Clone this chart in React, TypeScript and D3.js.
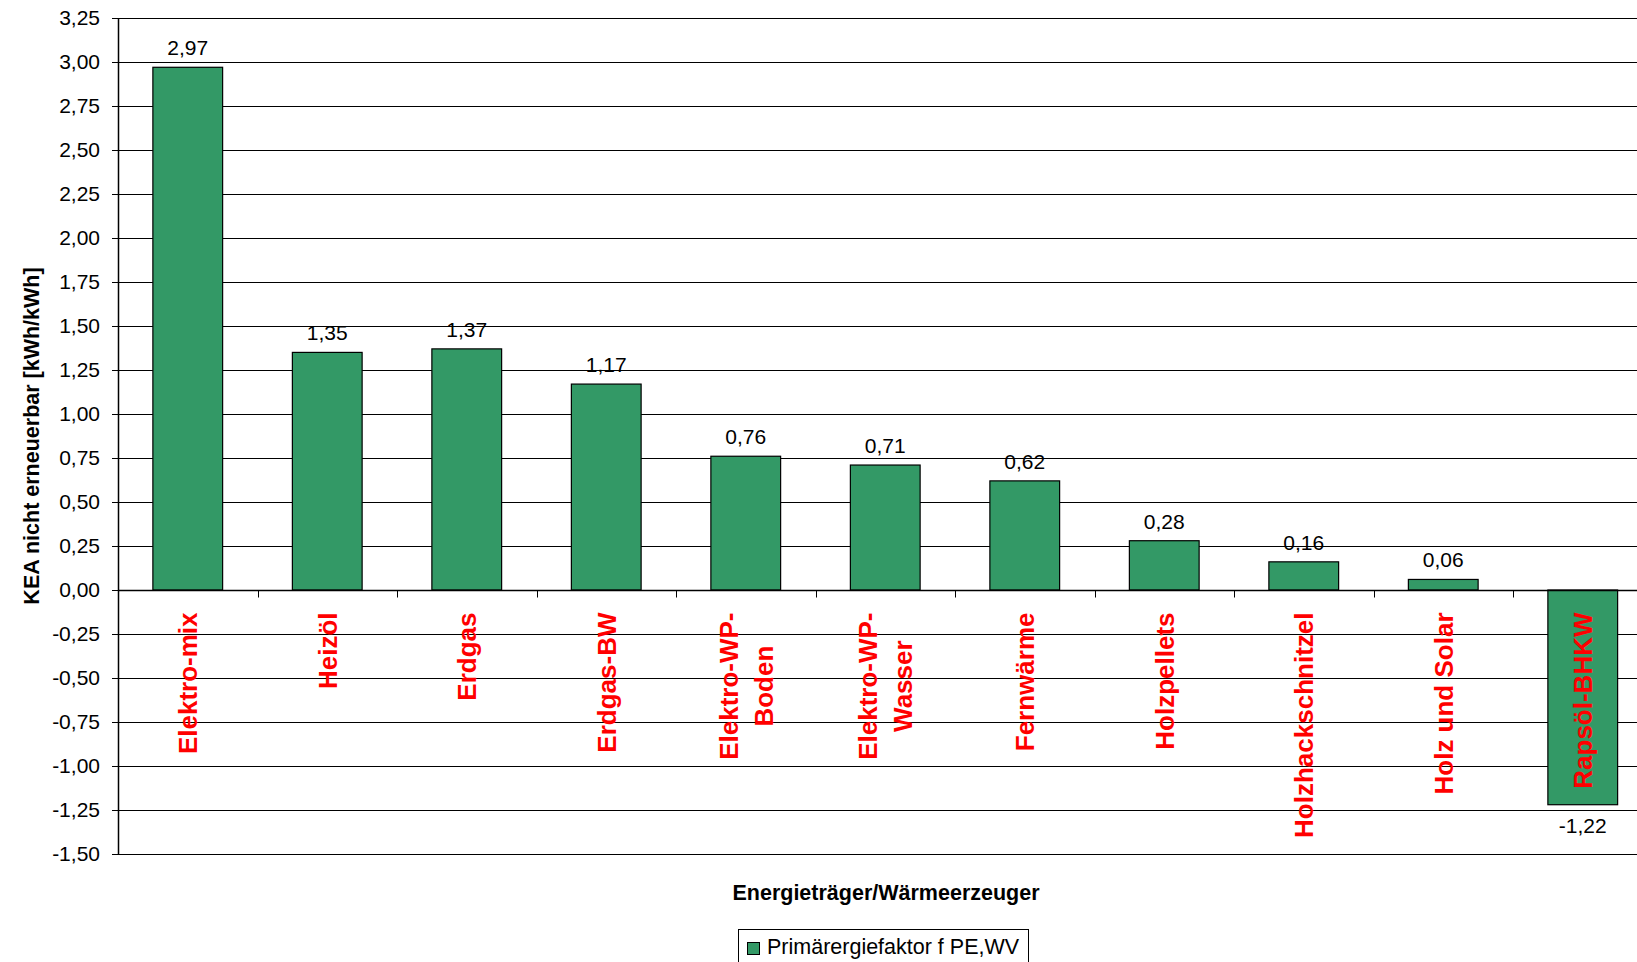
import React, { useEffect, useRef } from "react";
import * as d3 from "d3";

// Energy carriers / heat generators (line breaks mark wrapped labels)
const categories: string[] = [
  "Elektro-mix",
  "Heizöl",
  "Erdgas",
  "Erdgas-BW",
  "Elektro-WP-\nBoden",
  "Elektro-WP-\nWasser",
  "Fernwärme",
  "Holzpellets",
  "Holzhackschnitzel",
  "Holz und Solar",
  "Rapsöl-BHKW",
];

// Primärenergiefaktor per carrier [kWh/kWh]
const values: number[] = [2.97, 1.35, 1.37, 1.17, 0.76, 0.71, 0.62, 0.28, 0.16, 0.06, -1.22];

const yTicks: number[] = [
  -1.5, -1.25, -1.0, -0.75, -0.5, -0.25, 0, 0.25, 0.5, 0.75, 1.0, 1.25, 1.5, 1.75, 2.0, 2.25,
  2.5, 2.75, 3.0, 3.25,
];

const seriesName = "Primärergiefaktor f PE,WV";
const xTitle = "Energieträger/Wärmeerzeuger";
const yTitle = "KEA nicht erneuerbar [kWh/kWh]";

const W = 1637;
const H = 962;
const FONT = "'Liberation Sans', Arial, Helvetica, sans-serif";
const BAR = "#339966";

export default function App() {
  const ref = useRef<SVGSVGElement | null>(null);

  useEffect(() => {
    const svg = d3.select(ref.current);
    svg.selectAll("*").remove();

    const left = 118;
    const right = 1652.5;
    const top = 18;
    const bottom = 854;

    const de = d3.formatLocale({
      decimal: ",",
      thousands: ".",
      grouping: [3],
      currency: ["", " €"],
      minus: "-",
    });
    const fmt = de.format(".2f");

    const x = d3
      .scaleBand<string>()
      .domain(categories)
      .range([left, right])
      .paddingInner(0.5)
      .paddingOuter(0.25);
    const y = d3.scaleLinear().domain([-1.5, 3.25]).range([bottom, top]);
    const step = x.step();

    // horizontal gridlines
    svg
      .append("g")
      .selectAll("line")
      .data(yTicks)
      .join("line")
      .attr("x1", left)
      .attr("x2", right)
      .attr("y1", (d) => Math.round(y(d)) + 0.5)
      .attr("y2", (d) => Math.round(y(d)) + 0.5)
      .attr("stroke", "#000")
      .attr("stroke-width", 1);

    // bars
    svg
      .append("g")
      .selectAll("rect")
      .data(values)
      .join("rect")
      .attr("x", (_, i) => x(categories[i])!)
      .attr("width", x.bandwidth())
      .attr("y", (d) => y(Math.max(0, d)))
      .attr("height", (d) => Math.abs(y(d) - y(0)))
      .attr("fill", BAR)
      .attr("stroke", "#000")
      .attr("stroke-width", 1.2);

    // value labels
    svg
      .append("g")
      .selectAll("text")
      .data(values)
      .join("text")
      .attr("x", (_, i) => x(categories[i])! + x.bandwidth() / 2)
      .attr("y", (d) => (d >= 0 ? y(d) - 12 : y(d) + 28))
      .attr("text-anchor", "middle")
      .attr("font-family", FONT)
      .attr("font-size", 21)
      .attr("fill", "#000")
      .text((d) => fmt(d));

    // y axis
    const yAxis = d3
      .axisLeft(y)
      .tickValues(yTicks)
      .tickSize(6)
      .tickSizeOuter(0)
      .tickPadding(12)
      .tickFormat((d) => fmt(d as number));
    const gy = svg.append("g").attr("transform", `translate(${left},0)`).call(yAxis);
    gy.select(".domain").attr("stroke", "#000").attr("stroke-width", 1.5);
    gy.selectAll(".tick line").attr("stroke", "#000");
    gy.selectAll(".tick text")
      .attr("font-family", FONT)
      .attr("font-size", 21)
      .attr("fill", "#000");

    // category axis at zero
    const zeroY = Math.round(y(0)) + 0.5;
    svg
      .append("line")
      .attr("x1", left)
      .attr("x2", right)
      .attr("y1", zeroY)
      .attr("y2", zeroY)
      .attr("stroke", "#000")
      .attr("stroke-width", 1.5);
    svg
      .append("g")
      .selectAll("line")
      .data(d3.range(categories.length + 1))
      .join("line")
      .attr("x1", (i) => Math.round(left + i * step) + 0.5)
      .attr("x2", (i) => Math.round(left + i * step) + 0.5)
      .attr("y1", zeroY)
      .attr("y2", zeroY + 7)
      .attr("stroke", "#000");

    // rotated category labels, top edge aligned just below the zero axis
    const labelTop = zeroY + 22;
    const lineGap = 35;
    categories.forEach((cat) => {
      const lines = cat.split("\n");
      const cx = x(cat)! + x.bandwidth() / 2;
      const g = svg
        .append("g")
        .attr("transform", `translate(${cx},${labelTop}) rotate(-90)`);
      const texts = lines.map((ln, j) =>
        g
          .append("text")
          .attr("y", (j - (lines.length - 1) / 2) * lineGap)
          .attr("dy", "0.36em")
          .attr("text-anchor", "middle")
          .attr("font-family", FONT)
          .attr("font-weight", "bold")
          .attr("font-size", 26)
          .attr("fill", "#ff0000")
          .text(ln)
      );
      const maxLen = d3.max(texts, (t) => (t.node() as SVGTextElement).getComputedTextLength()) ?? 0;
      texts.forEach((t) => t.attr("x", -maxLen / 2));
    });

    // axis titles
    svg
      .append("text")
      .attr("transform", `translate(31,${(top + bottom) / 2}) rotate(-90)`)
      .attr("dy", "0.36em")
      .attr("text-anchor", "middle")
      .attr("font-family", FONT)
      .attr("font-weight", "bold")
      .attr("font-size", 21.5)
      .text(yTitle);

    svg
      .append("text")
      .attr("x", 886)
      .attr("y", 900)
      .attr("text-anchor", "middle")
      .attr("font-family", FONT)
      .attr("font-weight", "bold")
      .attr("font-size", 21.5)
      .text(xTitle);

    // legend
    const lg = svg.append("g");
    lg.append("rect")
      .attr("x", 738.5)
      .attr("y", 929.5)
      .attr("width", 290)
      .attr("height", 50)
      .attr("fill", "#fff")
      .attr("stroke", "#000");
    lg.append("rect")
      .attr("x", 747.5)
      .attr("y", 942.5)
      .attr("width", 12)
      .attr("height", 12)
      .attr("fill", BAR)
      .attr("stroke", "#000");
    lg.append("text")
      .attr("x", 767)
      .attr("y", 954)
      .attr("font-family", FONT)
      .attr("font-size", 21.5)
      .text(seriesName);
  }, []);

  return (
    <svg
      ref={ref}
      width={W}
      height={H}
      viewBox={`0 0 ${W} ${H}`}
      style={{ position: "absolute", left: 0, top: 0, background: "#fff" }}
    />
  );
}
